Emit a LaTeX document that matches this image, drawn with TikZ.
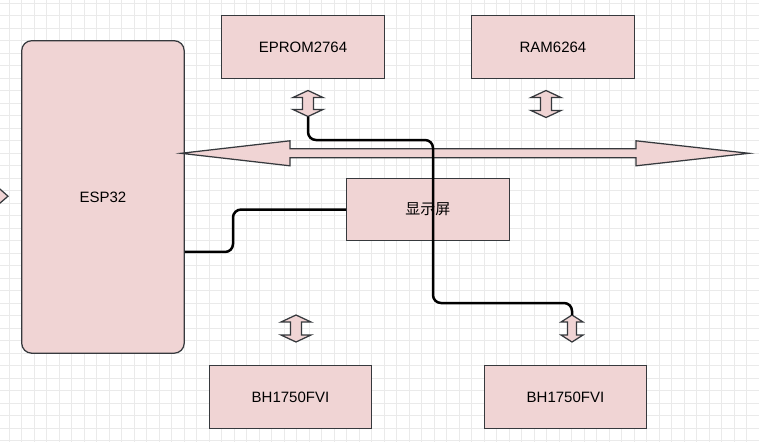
\documentclass[tikz,border=0pt]{standalone}
\usepackage{fontspec}
\setmainfont{Liberation Sans}
\newfontfamily\cjk{Noto Sans CJK SC}
\definecolor{boxfill}{RGB}{240,212,212}
\definecolor{boxline}{RGB}{54,57,61}
\definecolor{gridc}{RGB}{234,234,234}
\newcommand\vdblarrow[7]{% name, x, top, bottom, head half, shaft half, head length
  \draw[shapeline] (#2,#3) -- ({#2+#5},{#3+#7}) -- ({#2+#6},{#3+#7}) -- ({#2+#6},{#4-#7}) -- ({#2+#5},{#4-#7}) -- (#2,#4)
    -- ({#2-#5},{#4-#7}) -- ({#2-#6},{#4-#7}) -- ({#2-#6},{#3+#7}) -- ({#2-#5},{#3+#7}) -- cycle;
  \coordinate (#1top) at (#2,#3);
  \coordinate (#1bot) at (#2,#4);
}
\begin{document}
\begin{tikzpicture}[x=1pt,y=-1pt,
  box/.style={draw=boxline, fill=boxfill, line width=1.25pt, minimum width=162.5pt, minimum height=62.5pt, inner sep=0pt, font=\fontsize{15}{18}\selectfont},
  wire/.style={draw=black, line width=2.5pt, rounded corners=8pt},
  shapeline/.style={draw=boxline, fill=boxfill, line width=1.25pt, line join=miter},
  gridline/.style={draw=gridc, line width=1pt}]
\useasboundingbox (0,0) rectangle (759,442);
\clip (0,0) rectangle (759,442);
\fill[white] (0,0) rectangle (759,442);
% grid
\foreach \i in {0,...,60} \draw[gridline] ({9.2+12.5*\i},0) -- ({9.2+12.5*\i},442);
\foreach \j in {0,...,35} \draw[gridline] (0,{3.3+12.5*\j}) -- (759,{3.3+12.5*\j});
% left cut-off arrow tip
\draw[shapeline] (-10,180.3) -- (8,196.2) -- (-10,211.7) -- cycle;
% boxes
\node[box, minimum height=312.5pt, rounded corners=10pt] (esp) at (102.95,196.95) {ESP32};
\node[box] (eprom) at (302.95,47.05) {EPROM2764};
\node[box] (ram) at (552.95,47.05) {RAM6264};
\node[box] (disp) at (427.95,209.55) {\cjk 显示屏};
\node[box] (bhl) at (290.45,397.05) {BH1750FVI};
\node[box] (bhr) at (565.45,397.05) {BH1750FVI};
% big bus arrow
\draw[shapeline] (181,153.3) -- (290,140.8) -- (290,148.8) -- (636,148.8) -- (636,140.8) -- (749,153.3)
  -- (636,165.8) -- (636,157.8) -- (290,157.8) -- (290,165.8) -- cycle;
% small double arrows
\vdblarrow{ea}{308}{90.5}{116.5}{15}{5.5}{7}
\vdblarrow{ra}{546}{90.5}{117.5}{15}{5.5}{7}
\vdblarrow{bla}{296}{315}{342}{15}{5.5}{7}
\vdblarrow{bra}{572}{315}{342}{11}{4.5}{7}
% connectors
\draw[wire] (eabot) -- (308,140) -- (433,140) -- (433,303) -- (572,303) -- (bratop);
\draw[wire] ([yshift=-55pt]esp.east) -- (233,252) -- (233,209.55) -- (disp.west);
\end{tikzpicture}
\end{document}
